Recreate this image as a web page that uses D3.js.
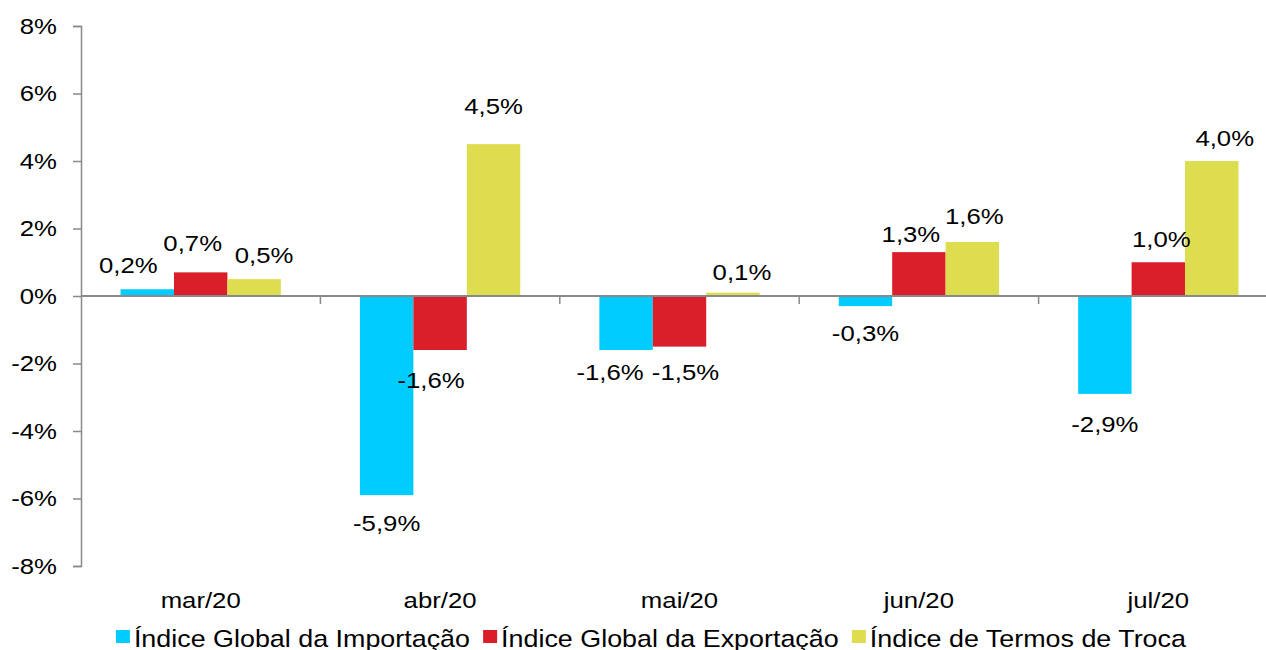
<!DOCTYPE html>
<html>
<head>
<meta charset="utf-8">
<script src="https://cdn.jsdelivr.net/npm/d3@7"></script>
<style>
  html, body { margin: 0; padding: 0; background: #fff; }
  svg { display: block; font-family: "Liberation Sans", Arial, sans-serif; }
</style>
</head>
<body>
<div id="chart"></div>
<script>
// data
const months = ["mar/20", "abr/20", "mai/20", "jun/20", "jul/20"];
const seriesNames = ["Índice Global da Importação", "Índice Global da Exportação", "Índice de Termos de Troca"];
const importacao = [0.2, -5.9, -1.6, -0.3, -2.9];
const exportacao = [0.7, -1.6, -1.5, 1.3, 1.0];
const termosTroca = [0.5, 4.5, 0.1, 1.6, 4.0];
const yTicks = [-8, -6, -4, -2, 0, 2, 4, 6, 8];

const colors = ["#00CCFF", "#DA1F2A", "#DEDD50"];
// little hand moves of the value labels (dx, dy) like in the original
const labelShift = [
  [[-19, 0], [0, 1], [-16, -5], [0, 0], [0, 3]],
  [[-8, -5], [-9, 3], [6, -2], [-8, 6], [3, 1]],
  [[10, 0], [0, -14], [9, 3], [2, -2], [13, 1]]
];

const width = 1266, height = 650;
const stretch = 1.12; // text in the picture is a bit wide
const axisColor = "#898989";

const svg = d3.select("#chart").append("svg")
  .attr("width", width)
  .attr("height", height);

const y = d3.scaleLinear().domain([-8, 8]).range([566, 26]);
const x0 = d3.scaleBand().domain(months).range([81, 1278]).padding(0);
const x1 = d3.scaleBand().domain(d3.range(3)).range([0, x0.bandwidth()])
  .paddingInner(0).paddingOuter(0.74);

const allSeries = [importacao, exportacao, termosTroca];
const rows = [];
allSeries.forEach((vals, s) => {
  vals.forEach((v, i) => rows.push({ s, i, month: months[i], v }));
});

// bars
svg.append("g").selectAll("rect")
  .data(rows)
  .join("rect")
  .attr("x", d => x0(d.month) + x1(d.s))
  .attr("width", x1.bandwidth())
  .attr("y", d => y(Math.max(0, d.v)))
  .attr("height", d => Math.abs(y(d.v) - y(0)))
  .attr("fill", d => colors[d.s]);

// y axis
const yAxis = svg.append("g")
  .attr("transform", "translate(81,0)")
  .call(d3.axisLeft(y).tickValues(yTicks).tickSize(8).tickFormat(d => d + "%"));
yAxis.select(".domain").attr("stroke", axisColor).attr("stroke-width", 1.5);
yAxis.selectAll(".tick line").attr("stroke", axisColor).attr("stroke-width", 1.5);
yAxis.selectAll(".tick text")
  .attr("x", -24 / stretch)
  .attr("transform", `scale(${stretch},1)`)
  .style("font-size", "23px")
  .attr("fill", "#000");

// zero line and category ticks
svg.append("line")
  .attr("x1", 81).attr("x2", 1278)
  .attr("y1", y(0)).attr("y2", y(0))
  .attr("stroke", axisColor).attr("stroke-width", 2);

svg.append("g").selectAll("line")
  .data(months.slice(1))
  .join("line")
  .attr("x1", d => x0(d)).attr("x2", d => x0(d))
  .attr("y1", y(0)).attr("y2", y(0) + 8)
  .attr("stroke", axisColor).attr("stroke-width", 1.5);

// category labels
svg.append("g").selectAll("text")
  .data(months)
  .join("text")
  .attr("transform", d => `translate(${x0(d) + x0.bandwidth() / 2},608) scale(${stretch},1)`)
  .attr("text-anchor", "middle")
  .style("font-size", "23px")
  .text(d => d);

// value labels
svg.append("g").selectAll("text")
  .data(rows)
  .join("text")
  .attr("transform", d => {
    const cx = x0(d.month) + x1(d.s) + x1.bandwidth() / 2 + labelShift[d.s][d.i][0];
    const by = (d.v >= 0 ? y(d.v) - 16 : y(d.v) + 35) + labelShift[d.s][d.i][1];
    return `translate(${cx},${by}) scale(${stretch},1)`;
  })
  .attr("text-anchor", "middle")
  .style("font-size", "23px")
  .text(d => d.v.toFixed(1).replace(".", ",") + "%");

// legend
const legend = svg.append("g");
const items = legend.selectAll("g")
  .data(seriesNames)
  .join("g");
items.append("rect")
  .attr("width", 14).attr("height", 13)
  .attr("y", 630)
  .attr("fill", (d, i) => colors[i]);
items.append("text")
  .style("font-size", "24px")
  .text(d => d);

let xpos = 0;
const positions = [];
items.each(function (d, i) {
  const w = d3.select(this).select("text").node().getComputedTextLength() * stretch;
  positions.push(xpos);
  xpos += 14 + 4 + w + (i < seriesNames.length - 1 ? 13 : 0);
});
const start = 651 - xpos / 2;
items.each(function (d, i) {
  const g = d3.select(this);
  const px = start + positions[i];
  g.select("rect").attr("x", px);
  g.select("text").attr("transform", `translate(${px + 18},647) scale(${stretch},1)`);
});
</script>
</body>
</html>
